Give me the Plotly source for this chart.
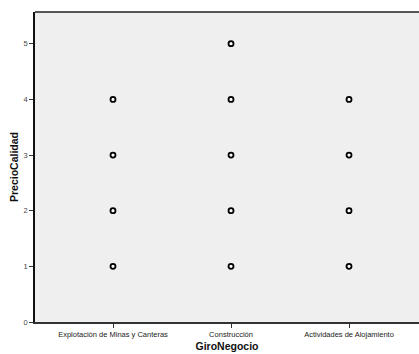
import plotly.graph_objects as go

# Scatter of PrecioCalidad by GiroNegocio
giro = ["Explotación de Minas y Canteras", "Construcción", "Actividades de Alojamiento"]
explotacion = [1, 2, 3, 4]
construccion = [1, 2, 3, 4, 5]
alojamiento = [1, 2, 3, 4]
y_ticks = [0, 1, 2, 3, 4, 5]

xs, ys = [], []
for idx, vals in enumerate([explotacion, construccion, alojamiento]):
    xs += [idx] * len(vals)
    ys += vals

font = "Liberation Sans, Arial, sans-serif"

fig = go.Figure(go.Scatter(
    x=xs, y=ys, mode="markers",
    marker=dict(symbol="circle", size=5, color="white",
                line=dict(color="black", width=1.8)),
    hoverinfo="skip", showlegend=False,
))

fig.update_layout(
    width=419, height=354,
    margin=dict(l=35, r=0, t=12, b=32),
    paper_bgcolor="white", plot_bgcolor="#EFEFEF",
    font=dict(family=font, size=8, color="#333"),
    xaxis=dict(
        range=[-0.661, 2.593], tickvals=[0, 1, 2], ticktext=giro,
        showgrid=False, zeroline=False,
        showline=True, linecolor="#333", linewidth=2, mirror=False,
        ticks="outside", ticklen=4, tickcolor="#333", tickwidth=1,
        tickfont=dict(size=7.5, color="#222"),
        title=dict(text="<b>GiroNegocio</b>", font=dict(size=10.5, color="#111"), standoff=5),
    ),
    yaxis=dict(
        range=[0, 5.57], tickvals=y_ticks,
        showgrid=False, zeroline=False,
        showline=True, linecolor="#111", linewidth=1.5,
        ticks="outside", ticklen=4, tickcolor="#333", tickwidth=1,
        tickfont=dict(size=7.5, color="#444"),
        title=dict(text="<b>PrecioCalidad</b>", font=dict(size=10.5, color="#111"), standoff=3),
    ),
    shapes=[dict(type="line", xref="paper", yref="paper", x0=0, x1=1, y0=1, y1=1,
                 line=dict(color="#222", width=1.5))],
)

fig.write_html("out.html")
